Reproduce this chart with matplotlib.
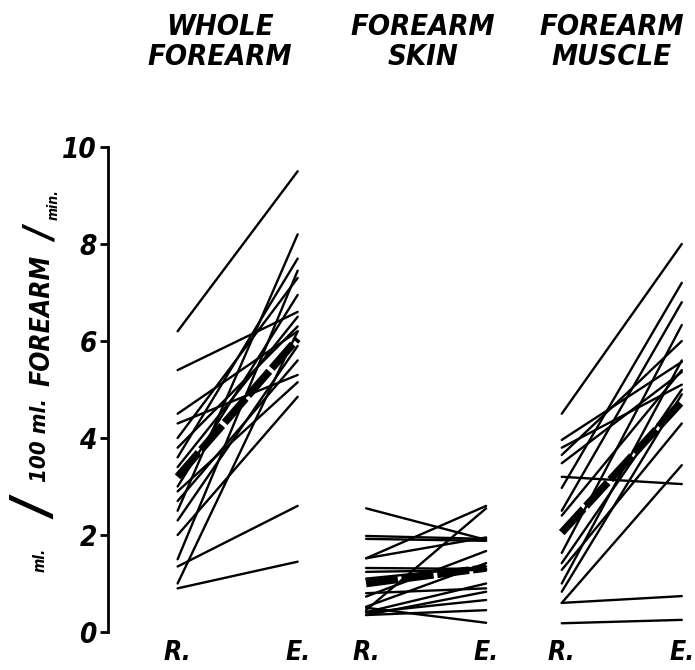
import matplotlib
matplotlib.use("Agg")
import matplotlib.pyplot as plt

# ---------------- data ----------------
panel_titles = ["WHOLE\nFOREARM", "FOREARM\nSKIN", "FOREARM\nMUSCLE"]
tick_values = [0, 2, 4, 6, 8, 10]
tick_labels = ["0", "2", "4", "6", "8", "10"]
xcat_labels = ["R.", "E."]

whole_R = [6.2, 5.4, 4.5, 4.3, 4.0, 3.6, 3.4, 3.0, 2.9, 2.5, 2.3, 2.0, 1.5, 1.35, 1.0, 0.9, 3.8, 2.7]
whole_E = [9.5, 6.6, 6.2, 5.3, 7.3, 7.7, 6.5, 6.95, 5.15, 8.2, 5.9, 4.85, 7.45, 2.6, 6.2, 1.45, 6.3, 5.6]
whole_mean = [3.2, 6.05]

skin_R = [2.55, 1.98, 1.92, 1.52, 1.52, 1.32, 1.24, 0.45, 0.73, 0.52, 0.41, 0.35, 0.5, 0.4, 0.35, 0.8, 1.1]
skin_E = [1.9, 1.92, 1.88, 2.6, 1.95, 1.3, 1.28, 2.55, 1.67, 1.42, 1.0, 0.83, 0.19, 0.66, 0.45, 0.9, 1.35]
skin_mean = [1.0, 1.32]

muscle_R = [4.5, 0.6, 0.18, 3.2, 3.96, 3.8, 3.65, 3.48, 2.97, 2.5, 2.4, 1.63, 1.42, 1.28, 1.0, 0.83, 0.6]
muscle_E = [8.0, 0.74, 0.25, 3.05, 5.57, 5.1, 6.0, 5.36, 7.2, 6.8, 5.4, 6.33, 5.0, 4.3, 5.6, 4.9, 3.44]
muscle_mean = [2.05, 4.75]

# ---------------- layout ----------------
W, H = 695, 670
fig = plt.figure(figsize=(W / 100, H / 100), dpi=100)
ax_left, ax_right = 108, 695
y0_px, y10_px = 632, 147
ax = fig.add_axes([ax_left / W, (H - y0_px) / H, (ax_right - ax_left) / W, (y0_px - y10_px) / H])

# x positions (R, E) for each panel in data units
panel_pos = [(0.0, 1.0), (1.57, 2.57), (3.20, 4.20)]
ax.set_xlim(-0.58, 4.31)
ax.set_ylim(0, 10)

FONT = ["DejaVu Sans"]
TXT = dict(fontstyle="italic", fontweight="bold", family=FONT, fontstretch="condensed")

line_kw = dict(color="black", lw=1.7, solid_capstyle="round", clip_on=False)
mean_kw = dict(color="black", lw=5.5, dashes=(4.2, 0.5), dash_capstyle="butt", clip_on=False)

groups = [(whole_R, whole_E, whole_mean), (skin_R, skin_E, skin_mean), (muscle_R, muscle_E, muscle_mean)]
for (xr, xe), (R, E, M) in zip(panel_pos, groups):
    for r, e in zip(R, E):
        ax.plot([xr, xe], [r, e], **line_kw)
    ax.plot([xr, xe], M, **mean_kw)

# spines / ticks
for s in ["top", "right", "bottom"]:
    ax.spines[s].set_visible(False)
ax.spines["left"].set_linewidth(2.0)
ax.set_yticks(tick_values)
ax.set_yticklabels(tick_labels, fontsize=20, **TXT)
ax.tick_params(axis="y", direction="out", length=6, width=2.0, pad=2)
ax.set_xticks([])

# category labels R. / E.
for xr, xe in panel_pos:
    for xp, lab in zip((xr, xe), xcat_labels):
        ax.text(xp, -0.43, lab, ha="center", va="center", fontsize=19, clip_on=False, **TXT)

# panel titles
title_x_px = [220, 423, 612]
for tx, t in zip(title_x_px, panel_titles):
    fig.text(tx / W, 1 - 42 / H, t, ha="center", va="center", fontsize=21, linespacing=1.1, **TXT)

# y-axis label pieces
ylab = [("ml.", 40, 560, 11), ("/", 39, 510, 38), ("100 ml.", 40, 440, 16),
        ("FOREARM", 42, 320, 19), ("/", 44, 236, 28), ("min.", 54, 205, 10)]
for txt, xpx, ypx, fs in ylab:
    fig.text(xpx / W, 1 - ypx / H, txt, rotation=90, ha="center", va="center", fontsize=fs, **TXT)

fig.savefig("out.png", dpi=100)
